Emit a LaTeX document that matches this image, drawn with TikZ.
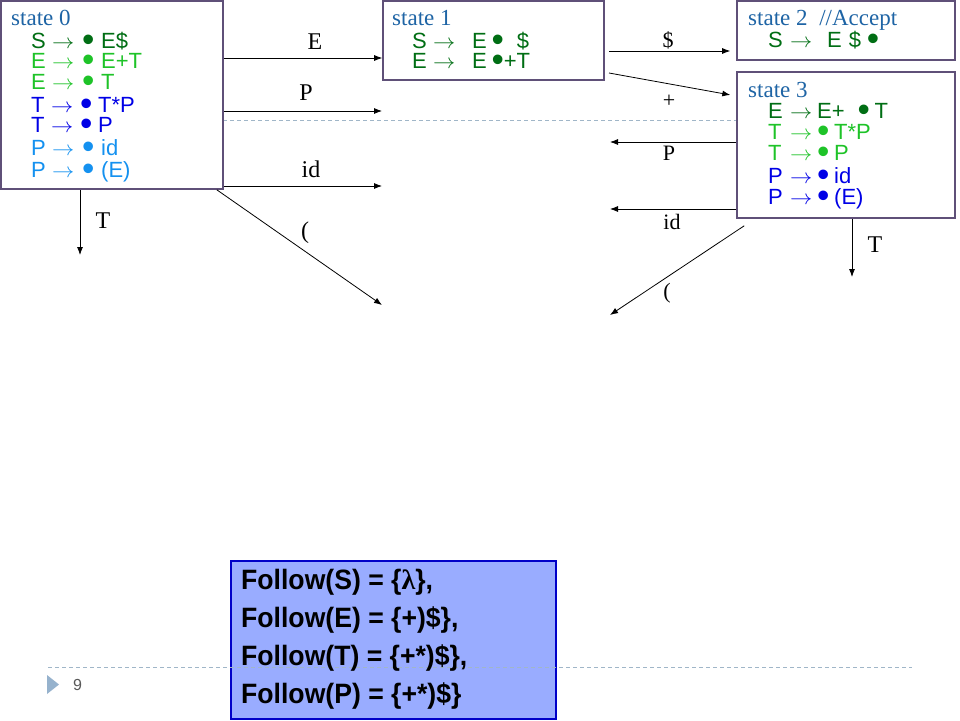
\documentclass[tikz,border=0pt]{standalone}
\usepackage{graphicx}
\usepackage{fontspec}
\setmainfont{Liberation Serif}
\newfontfamily\arial{Liberation Sans}
\newfontfamily\arialn[FakeStretch=0.95]{Liberation Sans}
\usetikzlibrary{arrows.meta}
\definecolor{stc}{RGB}{30,100,165}
\definecolor{dg}{RGB}{0,110,20}
\definecolor{lg}{RGB}{30,195,40}
\definecolor{bl}{RGB}{0,0,230}
\definecolor{lb}{RGB}{20,145,240}
\definecolor{boxc}{RGB}{95,80,120}
\definecolor{fbfill}{RGB}{153,172,255}
\definecolor{fbdraw}{RGB}{0,0,200}
\definecolor{dashc}{RGB}{160,182,200}
\definecolor{tric}{RGB}{150,178,205}
\newcommand{\Bu}[1][10pt]{\makebox[#1]{\raisebox{-3.6pt}{\scalebox{1.6}{•}}}}
\newcommand{\Ra}[1]{\makebox[#1][l]{\scalebox{1.07}[1]{$\rightarrow$}}}
\newcommand{\Lh}[2][21pt]{\makebox[#1][l]{#2}}
\begin{document}
\begin{tikzpicture}[x=1pt,y=-1pt,
  statebox/.style={draw=boxc,line width=1.6pt,fill=white,inner sep=0pt},
  title/.style={anchor=base west,inner sep=0pt,text=stc,font=\fontsize{23pt}{26pt}\selectfont},
  prod/.style={anchor=base west,inner sep=0pt,font=\arial\fontsize{22pt}{24pt}\selectfont},
  lab/.style={anchor=base,inner sep=0pt,font=\fontsize{24pt}{26pt}\selectfont},
  labr/.style={anchor=base,inner sep=0pt,font=\fontsize{22pt}{24pt}\selectfont},
  arr/.style={-{Latex[length=8pt,width=6pt]},line width=0.8pt,black},
  fol/.style={anchor=base west,inner sep=0pt,font=\arialn\bfseries\fontsize{28pt}{30pt}\selectfont},
  dashl/.style={draw=dashc,line width=0.8pt,dash pattern=on 4pt off 3pt}]
\useasboundingbox (0,0) rectangle (960,720);
\path[fill=white] (0,0) rectangle (960,720);
% slide guide line (behind boxes)
\draw[dashl] (48,120) -- (912,120);
% state boxes
\node[statebox,minimum width=222pt,minimum height=188pt] (s0) at (112,95) {};
\node[statebox,minimum width=221pt,minimum height=79pt] (s1) at (493.5,40.5) {};
\node[statebox,minimum width=218pt,minimum height=59pt] (s2) at (846,30.5) {};
\node[statebox,minimum width=218pt,minimum height=146pt] (s3) at (846,145) {};
% state 0
\node[title] (t0) at (11,25) {state 0};
\node[prod,text=dg] (a1) at (31,48) {\Lh{S}\Ra{30pt}\Bu[12pt]\hspace{7pt}E\$};
\node[prod,text=lg] (a2) at (31,68) {\Lh{E}\Ra{30pt}\Bu[12pt]\hspace{7pt}E+T};
\node[prod,text=lg] (a3) at (31,89) {\Lh{E}\Ra{30pt}\Bu[12pt]\hspace{7pt}T};
\node[prod,text=bl] (a4) at (31,112) {\Lh[20pt]{T}\Ra{29pt}\Bu[12pt]\hspace{6pt}T*P};
\node[prod,text=bl] (a5) at (31,132) {\Lh[20pt]{T}\Ra{29pt}\Bu[12pt]\hspace{6pt}P};
\node[prod,text=lb] (a6) at (31,155) {\Lh{P}\Ra{30pt}\Bu[12pt]\hspace{7pt}id};
\node[prod,text=lb] (a7) at (31,177) {\Lh{P}\Ra{30pt}\Bu[12pt]\hspace{7pt}(E)};
% state 1
\node[title] (t1) at (392,25) {state 1};
\node[prod,text=dg] (b1) at (412,48) {\Lh{S}\Ra{39pt}E\hspace{6pt}\Bu\hspace{14pt}\$};
\node[prod,text=dg] (b2) at (412,68) {\Lh{E}\Ra{39pt}E\hspace{6pt}\Bu\hspace{1pt}+T};
% state 2
\node[title] (t2) at (748,25) {state 2\hspace{6pt} //Accept};
\node[prod,text=dg] (c1) at (768,47) {\Lh[22pt]{S}\Ra{37pt}E\hspace{7pt}\$\hspace{7pt}\Bu};
% state 3
\node[title] (t3) at (748,97) {state 3};
\node[prod,text=dg] (d1) at (768,118) {\Lh[22pt]{E}\Ra{27pt}E+\hspace{14pt}\Bu\hspace{6pt}T};
\node[prod,text=lg] (d2) at (768,139) {\Lh[22pt]{T}\Ra{28pt}\Bu\hspace{6pt}T*P};
\node[prod,text=lg] (d3) at (768,160) {\Lh[22pt]{T}\Ra{28pt}\Bu\hspace{6pt}P};
\node[prod,text=bl] (d4) at (768,183) {\Lh[22pt]{P}\Ra{28pt}\Bu\hspace{6pt}id};
\node[prod,text=bl] (d5) at (768,204) {\Lh[22pt]{P}\Ra{28pt}\Bu\hspace{6pt}(E)};
% free ends
\coordinate (pP) at (382,111);
\coordinate (pid) at (382,186);
\coordinate (plp) at (382,305);
\coordinate (pT) at (80,255);
\coordinate (qS) at (609,51);
\coordinate (qPl) at (609,73);
\coordinate (qP) at (610,142);
\coordinate (qid) at (610,209);
\coordinate (qlp) at (610,315);
\coordinate (qT) at (852,277);
% connectors from state 0
\draw[arr] (s0.east |- 0,58) -- (s1.west |- 0,58);
\draw[arr] (s0.east |- pP) -- (pP);
\draw[arr] (s0.east |- pid) -- (pid);
\draw[arr] ([xshift=-7pt]s0.south east) -- (plp);
\draw[arr] (pT |- s0.south) -- (pT);
% connectors of state 1 / state 3
\draw[arr,shorten >=6pt] (qS) -- (s2.west |- qS);
\draw[arr,shorten >=6pt] (qPl) -- (s3.west |- 0,96);
\draw[arr] (s3.west |- qP) -- (qP);
\draw[arr] (s3.west |- qid) -- (qid);
\draw[arr] ([xshift=8pt,yshift=-7pt]s3.south west) -- (qlp);
\draw[arr] (qT |- s3.south) -- (qT);
% labels
\node[lab] (lE) at (315,49) {E};
\node[lab] (lP) at (306,100) {P};
\node[lab] (lid) at (311,177) {id};
\node[lab] (llp) at (305,238) {(};
\node[lab] (lT) at (103,228) {T};
\node[labr] (rS) at (668,47) {\$};
\node[labr] (rPl) at (669,107) {+};
\node[labr] (rP) at (669,160) {P};
\node[labr] (rid) at (672,229) {id};
\node[labr] (rlp) at (667,298) {(};
\node[lab] (rT) at (875,252) {T};
% follow box
\node[draw=fbdraw,fill=fbfill,line width=1.6pt,inner sep=0pt,minimum width=325pt,minimum height=158pt] (fb) at (393.5,640) {};
\draw[dashl] (48,667) -- (912,667);
\node[fol] (f1) at (241,589) {Follow(S) = \{{\normalfont\bfseries λ}\},};
\node[fol] (f2) at (241,627) {Follow(E) = \{+)\$\},};
\node[fol] (f3) at (241,665) {Follow(T) = \{+*)\$\},};
\node[fol] (f4) at (241,703) {Follow(P) = \{+*)\$\}};
% slide number
\fill[tric] (47,675) -- (59,684.5) -- (47,694) -- cycle;
\node[anchor=base west,inner sep=0pt,text=black!65,font=\arial\fontsize{16pt}{18pt}\selectfont] (pg) at (73,690) {9};
\end{tikzpicture}
\end{document}
